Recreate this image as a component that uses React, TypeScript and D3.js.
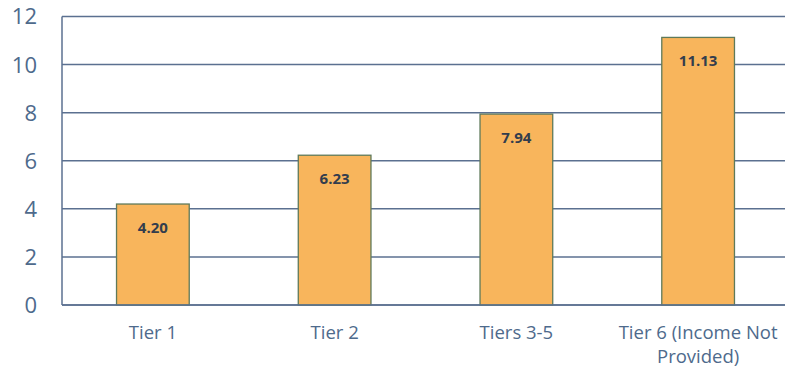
import React from "react";
import * as d3 from "d3";

const categories: string[][] = [["Tier 1"], ["Tier 2"], ["Tiers 3-5"], ["Tier 6 (Income Not", "Provided)"]];
const values: number[] = [4.2, 6.23, 7.94, 11.13];
const valueLabels: string[] = ["4.20", "6.23", "7.94", "11.13"];
const yTicks: number[] = [0, 2, 4, 6, 8, 10, 12];

const W = 785;
const H = 370;
const left = 62;
const right = 785;
const bandRight = 789;
const top = 16.5;
const bottom = 305;

export default function App() {
  const x = d3
    .scaleBand<number>()
    .domain(values.map((_, i) => i))
    .range([left, bandRight])
    .paddingInner(0.6)
    .paddingOuter(0.3);
  const y = d3.scaleLinear().domain([0, 12]).range([bottom, top]);
  const grid = "#5b7090";
  const font = "'Open Sans', sans-serif";
  return (
    <svg width={W} height={H} style={{ position: "absolute", left: 0, top: 0 }}>
      <rect width={W} height={H} fill="#fff" />
      {yTicks.map((t) => (
        <g key={t}>
          <line x1={left} x2={right} y1={y(t)} y2={y(t)} stroke={grid} strokeWidth={1.5} />
          <text x={37} y={y(t)} dy="0.36em" textAnchor="end" fontFamily={font} fontSize={22} fill="#4e6a8c">
            {t}
          </text>
        </g>
      ))}
      <line x1={left} x2={left} y1={top} y2={bottom} stroke={grid} strokeWidth={1.5} />
      {values.map((v, i) => (
        <g key={i}>
          <rect
            x={x(i)!}
            y={y(v)}
            width={x.bandwidth()}
            height={y(0) - y(v)}
            fill="#F8B55C"
            stroke="#5f7a5a"
            strokeWidth={1.3}
          />
          <text
            x={x(i)! + x.bandwidth() / 2}
            y={y(v) + 29}
            textAnchor="middle"
            fontFamily={font}
            fontWeight="bold"
            fontSize={15}
            fill="#333d4d"
          >
            {valueLabels[i]}
          </text>
          {categories[i].map((line, j) => (
            <text
              key={j}
              x={x(i)! + x.bandwidth() / 2}
              y={339 + j * 23.5}
              textAnchor="middle"
              fontFamily={font}
              fontSize={18.5}
              fill="#4e6a8c"
            >
              {line}
            </text>
          ))}
        </g>
      ))}
      <line x1={left} x2={right} y1={bottom} y2={bottom} stroke={grid} strokeWidth={1.5} />
    </svg>
  );
}
